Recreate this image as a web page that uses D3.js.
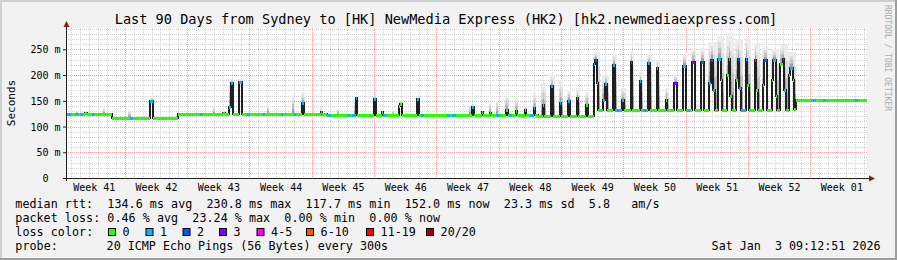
<!DOCTYPE html>
<html>
<head>
<meta charset="utf-8">
<script src="https://cdn.jsdelivr.net/npm/d3@7"></script>
<style>
  body { margin: 0; background: #fff; }
  svg text { font-family: "DejaVu Sans Mono", monospace; white-space: pre; }
</style>
</head>
<body>
<svg id="chart" width="897" height="260"></svg>
<script>
// ---------- data ----------
// time is in days since the start of the 90 day window, latency in ms
const titleText = "Last 90 Days from Sydney to [HK] NewMedia Express (HK2) [hk2.newmediaexpress.com]";
const yTicks = [0, 50, 100, 150, 200, 250];
const yMax = 291.4;

const lossLabels = ["0", "1", "2", "3", "4-5", "6-10", "11-19", "20/20"];
const lossColors = ["#26ff00", "#00b8ff", "#0059ff", "#7e00ff", "#ff00ff", "#ff5500", "#ff0000", "#a10000"];

// median rtt, step changes [day, ms]
const medianSteps = [
  [0, 125], [2.19, 127], [2.36, 125], [5.20, 117], [9.49, 150], [9.83, 117],
  [12.62, 125], [17.64, 127], [17.87, 125], [18.35, 137], [18.54, 184], [18.76, 124],
  [19.44, 186], [19.74, 125], [26.55, 146], [26.74, 125], [28.65, 128], [28.76, 125],
  [29.29, 123], [32.53, 155], [32.70, 123], [34.61, 153], [34.78, 123], [35.56, 129],
  [35.67, 123], [37.36, 140], [37.53, 144], [37.70, 123], [39.49, 153], [39.66, 123],
  [45.62, 138], [45.79, 123], [46.74, 129], [46.85, 123], [47.64, 127], [47.75, 123],
  [49.44, 132], [49.61, 123], [50.51, 131], [50.67, 123], [51.52, 132], [51.69, 123],
  [52.53, 136], [52.70, 123], [53.03, 120], [53.54, 142], [53.71, 120], [54.49, 178],
  [54.72, 120], [55.51, 146], [55.67, 120], [56.46, 150], [56.63, 120], [57.42, 156],
  [57.58, 120], [58.43, 141], [58.60, 120],
  [59.27, 222], [59.44, 230], [59.66, 185], [59.83, 132],
  [60.39, 151], [60.56, 183], [60.79, 132],
  [61.46, 220], [61.69, 132], [62.47, 152], [62.70, 132],
  [63.43, 226], [63.65, 132], [64.44, 188], [64.66, 132],
  [65.39, 223], [65.62, 132], [66.35, 213], [66.57, 132],
  [67.36, 152], [67.58, 132], [68.37, 184], [68.60, 132],
  [69.38, 218], [69.61, 132], [70.39, 226], [70.62, 132],
  [71.40, 226], [71.63, 132],
  [72.30, 185], [72.47, 229], [72.70, 170], [72.87, 132],
  [73.31, 232], [73.54, 190], [73.76, 132],
  [74.27, 200], [74.44, 231], [74.66, 160], [74.83, 132],
  [75.28, 190], [75.45, 232], [75.67, 175], [75.84, 132],
  [76.35, 232], [76.57, 180], [76.74, 132],
  [77.36, 229], [77.58, 170], [77.75, 132],
  [78.31, 180], [78.48, 229], [78.71, 132],
  [79.33, 190], [79.49, 229], [79.72, 160], [79.89, 132],
  [80.28, 222], [80.51, 232], [80.73, 170], [80.90, 132],
  [81.24, 200], [81.40, 213], [81.63, 190], [81.80, 135],
  [82.02, 151.5]
];

// loss class of the median line, step changes [day, class index]
const lossSteps = [
  [0, 0], [0.11, 1], [0.56, 0], [1.01, 1], [1.35, 0], [1.57, 1], [1.91, 0],
  [2.92, 1], [3.15, 0], [7.19, 1], [7.53, 0], [9.49, 1], [9.83, 0],
  [15.06, 1], [15.28, 0], [18.35, 1], [18.76, 0], [19.44, 1], [19.74, 0],
  [20.34, 1], [20.56, 0], [22.13, 1], [22.36, 0], [24.16, 1], [24.38, 0],
  [25.62, 1], [25.84, 0], [26.55, 1], [26.74, 0], [29.33, 1], [29.78, 0],
  [31.57, 1], [31.91, 0], [32.13, 1], [32.70, 0], [34.61, 1], [34.78, 0],
  [35.62, 1], [35.96, 0], [39.49, 1], [39.66, 0], [39.89, 1], [40.22, 0],
  [42.81, 1], [43.15, 0], [43.37, 1], [43.82, 0], [45.62, 1], [45.79, 0],
  [48.31, 1], [48.76, 0], [49.78, 1], [50.11, 0], [52.13, 1], [52.70, 0],
  [54.49, 1], [54.72, 0], [55.51, 1], [55.67, 0], [56.46, 1], [56.63, 0],
  [57.42, 1], [57.58, 0],
  [59.27, 1], [59.44, 2], [59.66, 1], [59.83, 0], [60.39, 1], [60.79, 0],
  [61.46, 1], [62.70, 0], [63.43, 2], [63.65, 0], [64.44, 1], [64.66, 0],
  [64.83, 1], [65.28, 0], [65.39, 1], [65.62, 0], [66.35, 1], [66.57, 0],
  [68.37, 3], [68.60, 0], [69.38, 1], [69.61, 0], [69.78, 1], [70.11, 0],
  [70.39, 3], [70.62, 0], [71.40, 2], [71.63, 0],
  [72.30, 1], [72.47, 2], [72.70, 1], [72.87, 0], [73.31, 1], [73.54, 0],
  [74.44, 1], [74.66, 0], [75.45, 2], [75.67, 1], [76.57, 0],
  [77.36, 4], [77.58, 0], [78.48, 2], [78.71, 0], [79.49, 1], [79.72, 0],
  [80.51, 2], [80.73, 1], [80.90, 0], [81.40, 1], [81.63, 0],
  [83.82, 1], [84.27, 0], [85.06, 1], [85.39, 0], [88.65, 1], [88.99, 0]
];

// upper edge of the smoke (slowest pings), step changes [day, ms]; 0 = no smoke
const smokeTop = [
  [0, 0], [1.12, 130], [1.35, 0], [4.16, 136], [4.38, 0], [6.97, 133], [7.30, 0],
  [9.44, 156], [9.89, 0], [16.52, 140], [16.74, 0], [18.31, 192], [18.88, 0],
  [19.33, 192], [19.78, 0], [22.58, 142], [22.81, 0], [25.39, 161], [25.62, 0],
  [26.40, 166], [26.85, 0], [28.54, 137], [28.76, 0], [30.45, 136], [30.67, 0],
  [32.36, 160], [32.70, 0], [34.49, 161], [34.94, 0], [36.63, 132], [36.85, 0],
  [37.30, 151], [37.75, 0], [39.33, 157], [39.66, 0], [45.28, 142], [45.84, 0],
  [47.53, 148], [47.75, 0], [48.31, 152], [48.54, 0], [49.33, 161], [49.66, 0],
  [50.45, 155], [50.79, 0], [51.46, 140], [51.80, 0], [52.47, 167], [52.81, 0],
  [53.37, 184], [53.93, 0], [54.38, 200], [54.94, 0], [55.39, 190], [55.84, 0],
  [56.29, 171], [56.74, 0], [57.30, 175], [57.75, 0], [58.31, 168], [58.76, 0],
  [59.16, 245], [60.05, 0], [60.28, 200], [61.01, 0], [61.35, 240], [61.91, 0],
  [62.36, 175], [62.92, 0], [63.32, 245], [63.87, 0], [64.33, 205], [64.88, 0],
  [65.28, 240], [65.84, 0], [66.24, 230], [66.79, 0], [67.25, 175], [67.80, 0],
  [68.26, 200], [68.82, 0], [69.27, 240], [69.83, 0], [70.28, 250], [70.84, 0],
  [71.29, 252], [71.85, 0], [72.19, 265], [73.09, 0], [73.20, 275], [73.98, 0],
  [74.16, 275], [75.05, 0], [75.17, 270], [76.06, 0], [76.24, 272], [76.96, 0],
  [77.25, 262], [77.97, 0], [78.20, 255], [78.93, 0], [79.22, 250], [80.11, 0],
  [80.17, 258], [81.12, 245], [82.00, 0], [84.16, 156], [84.38, 0]
];

// legend rows as rrdtool prints them (monospace)
const legendRtt = "median rtt:  134.6 ms avg  230.8 ms max  117.7 ms min  152.0 ms now  23.3 ms sd  5.8   am/s";
const legendLoss = "packet loss: 0.46 % avg  23.24 % max  0.00 % min  0.00 % now";
const legendColor = "loss color:";
const legendProbe = ["probe:", "20 ICMP Echo Pings (56 Bytes) every 300s"];
const stampText = "Sat Jan  3 09:12:51 2026";

// ---------- layout ----------
const W = 897, H = 260;
const plot = { left: 66, right: 867, top: 28, bottom: 178 };
const legendLeft = 15.3;
const charW = 7.08;                 // advance of the legend font
const boxX = [108, 145.5, 182.5, 219, 256.5, 306, 366, 426];
const rowY = [207.5, 221.5, 235.5, 249.5];

const endTime = Date.UTC(2026, 0, 3, 9, 12, 51);
const startTime = endTime - 90 * 864e5;
const toDate = d => new Date(startTime + d * 864e5);

const svg = d3.select("#chart");

const x = d3.scaleUtc().domain([toDate(0), toDate(90)]).range([plot.left, plot.right]);
const y = d3.scaleLinear().domain([0, yMax]).range([plot.bottom, plot.top]);
const px = d => Math.round(x(toDate(d)));
const py = v => Math.round(y(v));

// background and frame
svg.append("rect").attr("width", W).attr("height", H).attr("fill", "#f2f2f2");
svg.append("rect").attr("x", 0).attr("y", 0).attr("width", W).attr("height", 2).attr("fill", "#cfcfcf");
svg.append("rect").attr("x", 0).attr("y", 0).attr("width", 2).attr("height", H).attr("fill", "#cfcfcf");
svg.append("rect").attr("x", 0).attr("y", H - 2).attr("width", W).attr("height", 2).attr("fill", "#9e9e9e");
svg.append("rect").attr("x", W - 2).attr("y", 0).attr("width", 2).attr("height", H).attr("fill", "#9e9e9e");
svg.append("rect")
  .attr("x", plot.left).attr("y", plot.top)
  .attr("width", plot.right - plot.left).attr("height", plot.bottom - plot.top)
  .attr("fill", "#fff");

// grid
const grid = svg.append("g").attr("shape-rendering", "crispEdges");
const days = d3.utcDay.range(toDate(0), toDate(90));
const sundays = d3.utcSunday.range(toDate(0), toDate(90));
const minorY = d3.range(10, yMax, 10).filter(v => v % 50 !== 0);

grid.selectAll(".vmin").data(days).join("line")
  .attr("x1", t => Math.round(x(t)) + 0.5).attr("x2", t => Math.round(x(t)) + 0.5)
  .attr("y1", plot.top).attr("y2", plot.bottom)
  .attr("stroke", "#d2d2d2").attr("stroke-dasharray", "1,1");
grid.selectAll(".hmin").data(minorY).join("line")
  .attr("x1", plot.left).attr("x2", plot.right)
  .attr("y1", v => py(v) + 0.5).attr("y2", v => py(v) + 0.5)
  .attr("stroke", "#d2d2d2").attr("stroke-dasharray", "1,1");
grid.selectAll(".vmaj").data(sundays).join("line")
  .attr("x1", t => Math.round(x(t)) + 0.5).attr("x2", t => Math.round(x(t)) + 0.5)
  .attr("y1", plot.top).attr("y2", plot.bottom)
  .attr("stroke", "#eda3a3").attr("stroke-dasharray", "1,1");
grid.selectAll(".hmaj").data(yTicks.filter(v => v > 0)).join("line")
  .attr("x1", plot.left).attr("x2", plot.right)
  .attr("y1", v => py(v) + 0.5).attr("y2", v => py(v) + 0.5)
  .attr("stroke", "#eda3a3").attr("stroke-dasharray", "1,1");

// merge the three step series onto common intervals
const bis = d3.bisector(p => p[0]).right;
const stepAt = (arr, d) => arr[Math.max(0, bis(arr, d) - 1)][1];
const breaks = Array.from(new Set([...medianSteps, ...lossSteps, ...smokeTop].map(p => p[0]).concat([90])))
  .sort((a, b) => a - b);
const segs = breaks.slice(0, -1).map((d, i) => ({
  d0: d, d1: breaks[i + 1],
  m: stepAt(medianSteps, d), loss: stepAt(lossSteps, d), top: stepAt(smokeTop, d)
}));

// smoke: bands fading away from the median
const smokeShades = ["#a2a2a2", "#c2c2c2", "#dadada", "#ececec"];
const smoke = svg.append("g").attr("shape-rendering", "crispEdges");
smokeShades.forEach((c, k) => {
  smoke.append("g").selectAll("rect")
    .data(segs.filter(s => s.top > s.m))
    .join("rect")
    .attr("x", s => px(s.d0))
    .attr("width", s => px(s.d1) - px(s.d0))
    .attr("y", s => y(s.m + (s.top - s.m) * (k + 1) / 4))
    .attr("height", s => y(s.m + (s.top - s.m) * k / 4) - y(s.m + (s.top - s.m) * (k + 1) / 4))
    .attr("fill", c);
});

// dark median step line (shows the vertical moves)
const stepPts = segs.map(s => [px(s.d0), py(s.m)]);
stepPts.push([px(90), py(segs[segs.length - 1].m)]);
svg.append("path")
  .attr("d", d3.line().curve(d3.curveStepAfter)(stepPts))
  .attr("fill", "none").attr("stroke", "#202020").attr("stroke-width", 2);

// median coloured by packet loss
lossColors.forEach((c, k) => {
  const p = d3.path();
  segs.filter(s => s.loss === k).forEach(s => {
    p.moveTo(px(s.d0), py(s.m) + 0.5);
    p.lineTo(px(s.d1), py(s.m) + 0.5);
  });
  svg.append("path").attr("d", p.toString())
    .attr("fill", "none").attr("stroke", c).attr("stroke-width", 3);
});

// axes
const axisCol = "#1f1f1f", arrowCol = "#801f1f";
svg.append("line").attr("x1", plot.left - 3).attr("x2", plot.right + 3)
  .attr("y1", plot.bottom + 0.5).attr("y2", plot.bottom + 0.5)
  .attr("stroke", axisCol).attr("shape-rendering", "crispEdges");
svg.append("line").attr("x1", plot.left + 0.5).attr("x2", plot.left + 0.5)
  .attr("y1", plot.bottom + 3).attr("y2", plot.top - 3)
  .attr("stroke", axisCol).attr("shape-rendering", "crispEdges");
svg.append("path")
  .attr("d", `M${plot.right + 2},${plot.bottom - 2.5} L${plot.right + 8},${plot.bottom + 0.5} L${plot.right + 2},${plot.bottom + 3.5} Z`)
  .attr("fill", arrowCol);
svg.append("path")
  .attr("d", `M${plot.left - 2.5},${plot.top - 1} L${plot.left + 0.5},${plot.top - 7} L${plot.left + 3.5},${plot.top - 1} Z`)
  .attr("fill", arrowCol);

const yAxis = d3.axisLeft(y).tickValues(yTicks).tickSize(3).tickPadding(2.5).offset(0.5)
  .tickFormat(v => v === 0 ? "0  " : v + " m");
const gy = svg.append("g").attr("transform", `translate(${plot.left},0)`).call(yAxis);
gy.select(".domain").remove();
gy.selectAll("line").attr("stroke", axisCol);
gy.selectAll("text").attr("font-size", 10).attr("fill", "#000")
  .attr("font-family", "DejaVu Sans Mono, monospace").attr("dy", "0.36em");

const weekCenters = d3.utcSunday.range(toDate(-7), toDate(90))
  .map(t => new Date(+t + 3.5 * 864e5))
  .filter(t => t >= toDate(0) && t <= toDate(90));
const xAxis = d3.axisBottom(x).tickValues(weekCenters).tickSize(0).tickPadding(0)
  .tickFormat(d3.utcFormat("Week %V"));
const gx = svg.append("g").attr("transform", `translate(0,${plot.bottom})`).call(xAxis);
gx.select(".domain").remove();
gx.selectAll("text").attr("font-size", 10).attr("fill", "#000")
  .attr("font-family", "DejaVu Sans Mono, monospace").attr("y", 12.5).attr("dy", 0);

// titles
svg.append("text").attr("x", 446).attr("y", 24).attr("text-anchor", "middle")
  .attr("font-size", 13.6).attr("fill", "#000")
  .attr("textLength", titleText.length * 8.18).attr("lengthAdjust", "spacing")
  .text(titleText);
svg.append("text").attr("transform", "translate(14.5,103) rotate(-90)")
  .attr("text-anchor", "middle").attr("font-size", 11).attr("fill", "#000").text("Seconds");
svg.append("text").attr("transform", "translate(885,5) rotate(90)")
  .attr("font-size", 8).attr("fill", "#aaaaaa").text("RRDTOOL / TOBI OETIKER");

// legend
const leg = svg.append("g").attr("font-size", 11.7).attr("fill", "#000");
const row = (txt, x0, y0) => leg.append("text").attr("x", x0).attr("y", y0)
  .attr("textLength", txt.length * charW).attr("lengthAdjust", "spacing").text(txt);
row(legendRtt, legendLeft, rowY[0]);
row(legendLoss, legendLeft, rowY[1]);
row(legendColor, legendLeft, rowY[2]);
leg.selectAll(".box").data(lossColors).join("rect")
  .attr("x", (c, i) => boxX[i] + 0.5).attr("y", rowY[2] - 7)
  .attr("width", 7).attr("height", 7)
  .attr("fill", c => c).attr("stroke", "#000").attr("stroke-width", 1);
leg.selectAll(".boxlab").data(lossLabels).join("text")
  .attr("x", (t, i) => boxX[i] + 14.6).attr("y", rowY[2]).text(t => t);
row(legendProbe[0], legendLeft, rowY[3]);
leg.append("text").attr("x", 106.6).attr("y", rowY[3]).text(legendProbe[1]);
leg.append("text").attr("x", 880.5).attr("y", rowY[3]).attr("text-anchor", "end").text(stampText);
</script>
</body>
</html>
